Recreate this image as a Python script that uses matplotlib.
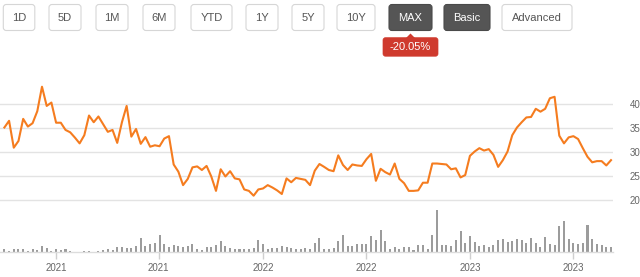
import matplotlib
matplotlib.use("Agg")
import matplotlib.pyplot as plt
import matplotlib.dates as mdates
from matplotlib.patches import FancyBboxPatch, Polygon
import pandas as pd
import numpy as np

plt.rcParams['font.family'] = ['Liberation Sans', 'DejaVu Sans']

# ---------------- data ----------------
start_date = "2020-10-02"
end_date = "2023-09-06"

price = [35.1, 36.5, 30.9, 32.3, 36.9, 35.3, 36.0, 38.5, 43.6, 39.6,
         40.3, 36.1, 36.1, 34.6, 34.1, 33.0, 31.8, 33.5, 37.6, 36.2,
         37.4, 35.8, 34.2, 34.6, 31.9, 36.2, 39.6, 33.2, 34.8, 31.7,
         33.1, 31.1, 31.4, 31.2, 32.8, 33.3, 27.4, 25.9, 23.1, 24.4,
         26.8, 27.0, 26.25, 27.1, 24.9, 21.9, 26.4, 24.9, 26.0, 24.5,
         24.3, 22.2, 21.9, 20.9, 22.2, 22.4, 23.1, 22.6, 22.0, 21.25,
         24.5, 23.7, 24.6, 24.4, 24.2, 23.1, 26.1, 27.5, 26.9, 26.25,
         26.0, 29.3, 27.3, 26.25, 27.4, 27.2, 27.1, 28.5, 29.6, 24.0,
         26.5, 25.8, 25.3, 27.6, 24.4, 23.5, 21.9, 21.9, 22.0, 23.6,
         23.6, 27.6, 27.6, 27.5, 27.4, 26.4, 26.6, 24.7, 25.2, 29.2,
         30.1, 30.8, 30.3, 30.6, 29.4, 26.9, 28.3, 30.1, 33.5, 35.1,
         36.2, 37.2, 37.3, 39.0, 38.4, 39.0, 41.2, 41.5, 33.4, 31.8,
         33.05, 33.3, 32.7, 30.8, 29.0, 27.85, 28.1, 28.1, 27.2, 28.3]

volume = [9, 3, 9, 9, 9, 3, 8, 6, 17, 12,
          3, 8, 6, 8, 3, 0, 0, 3, 3, 0,
          3, 6, 8, 6, 15, 15, 12, 12, 16, 41,
          17, 23, 26, 50, 23, 15, 20, 17, 15, 17,
          23, 9, 6, 15, 15, 20, 32, 17, 12, 9,
          8, 9, 9, 12, 35, 23, 9, 12, 12, 17,
          15, 12, 9, 9, 12, 9, 26, 41, 9, 9,
          12, 32, 50, 17, 17, 23, 23, 23, 47, 35,
          65, 32, 9, 15, 9, 15, 15, 6, 20, 20,
          9, 50, 126, 20, 20, 17, 35, 62, 26, 47,
          29, 17, 20, 15, 20, 35, 38, 29, 32, 38,
          35, 26, 41, 26, 15, 44, 23, 20, 77, 94,
          38, 26, 23, 26, 82, 38, 23, 20, 15, 15]

y_ticks = [20, 25, 30, 35, 40]
x_tick_dates = ["2021-01-01", "2021-07-01", "2022-01-01",
                "2022-07-01", "2023-01-01", "2023-07-01"]
x_tick_labels = ["2021", "2021", "2022", "2022", "2023", "2023"]

buttons = ["1D", "5D", "1M", "6M", "YTD", "1Y", "5Y", "10Y", "MAX", "Basic", "Advanced"]
change_label = "-20.05%"

# ---------------- figure ----------------
W, H = 640, 277
fig = plt.figure(figsize=(W / 100, H / 100), dpi=100)
fig.patch.set_facecolor("white")

dates = pd.date_range(start_date, end_date, periods=len(price))
x0 = pd.Timestamp("2021-01-01") - pd.Timedelta(days=98.7)
x1 = pd.Timestamp("2023-07-01") + pd.Timedelta(days=70.5)

def fx(px):
    return px / W

def fy(py):
    return 1 - py / H

# price axes
ax = fig.add_axes([0, fy(205), fx(613), fy(80) - fy(205)])
ax.plot(dates, price, color="#f57c1f", lw=1.5, solid_joinstyle="round")
ax.set_xlim(x0, x1)
ax.set_ylim(20 - 5 / 24 * 5, 20 + 120 / 4.8)
ax.set_yticks(y_ticks)
ax.yaxis.tick_right()
ax.tick_params(axis="y", length=0, pad=12, labelsize=7, labelcolor="#666666")
ax.tick_params(axis="x", bottom=False, labelbottom=False)
ax.grid(axis="y", color="#e3e3e3", lw=1)
ax.set_axisbelow(True)
for s in ax.spines.values():
    s.set_visible(False)
for lbl in ax.get_yticklabels():
    lbl.set_horizontalalignment("left")

# volume axes
axv = fig.add_axes([0, fy(251.7), fx(613), fy(208) - fy(251.7)])
axv.bar(dates, volume, width=3.6, color="#9c9c9c", align="center")
axv.set_xlim(x0, x1)
axv.set_ylim(0, 126 * 43.7 / 41.7)
axv.set_yticks([])
tick_pos = [pd.Timestamp(d) for d in x_tick_dates]
axv.set_xticks(tick_pos)
axv.set_xticklabels(x_tick_labels)
axv.tick_params(axis="x", length=5, width=1, color="#cfcfcf", pad=3,
                labelsize=7, labelcolor="#666666")
for k, s in axv.spines.items():
    if k == "bottom":
        s.set_color("#dcdcdc")
        s.set_linewidth(1)
    else:
        s.set_visible(False)

# overlay for buttons
ov = fig.add_axes([0, 0, 1, 1])
ov.set_xlim(0, W)
ov.set_ylim(H, 0)
ov.axis("off")

btn_x = [(3.3, 34.8), (49, 81), (96, 128), (143, 175), (191, 232), (246, 278),
         (292, 324), (337, 375), (389, 432), (444, 490), (502, 572)]
for label, (a, b) in zip(buttons, btn_x):
    dark = label in ("MAX", "Basic")
    fc = "#555555" if dark else "white"
    ec = "#4a4a4a" if dark else "#d6d6d6"
    tc = "white" if dark else "#555555"
    box = FancyBboxPatch((a, 4.5), b - a, 26, boxstyle="round,pad=0,rounding_size=3",
                         fc=fc, ec=ec, lw=0.8)
    ov.add_patch(box)
    ov.text((a + b) / 2, 17.8, label, ha="center", va="center", fontsize=8,
            color=tc)

# change badge
badge = FancyBboxPatch((383, 37.7), 55, 18.5, boxstyle="round,pad=0,rounding_size=2.5",
                       fc="#cf3a2e", ec="#cf3a2e", lw=0.5)
ov.add_patch(badge)
ov.add_patch(Polygon([[406, 38], [410.5, 33.5], [415, 38]], closed=True,
                     fc="#cf3a2e", ec="none"))
ov.text(410.5, 47, change_label, ha="center", va="center", fontsize=8, color="white")

fig.savefig("out.png", dpi=100, facecolor="white")
